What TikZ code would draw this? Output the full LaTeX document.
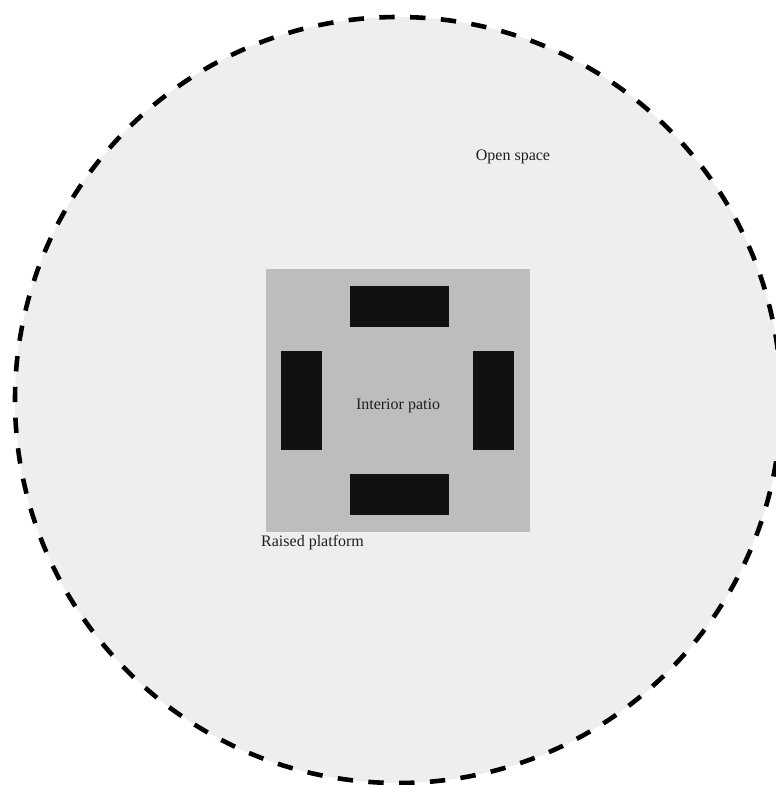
\documentclass[tikz,border=0pt]{standalone}
\usepackage{fontspec}
\setmainfont{Liberation Serif}
\definecolor{openfill}{HTML}{EEEEEE}
\definecolor{platfill}{HTML}{BDBDBD}
\definecolor{blockfill}{HTML}{111111}
\definecolor{txt}{HTML}{1E1E1E}
\begin{document}
\begin{tikzpicture}[x=1pt,y=-1pt,
  lbl/.style={font=\fontsize{16}{19}\selectfont, text=txt, inner sep=0pt},
  block/.style={fill=blockfill, draw=none}]
\useasboundingbox (0,0) rectangle (776,785);
\clip (0,0) rectangle (776,785);
% open space
\fill[openfill] (398,400) circle[radius=383];
\draw[line width=4.6pt, dash pattern=on 15.4pt off 15.4pt] (398,400) circle[radius=383];
% raised platform
\fill[platfill] (266,269) rectangle (530,532);
% blocks
\fill[block] (350,286) rectangle (449,327);
\fill[block] (350,474) rectangle (449,515);
\fill[block] (281,351) rectangle (322,450);
\fill[block] (473,351) rectangle (514,450);
% labels
\node[lbl] (patio) at (398,406) {Interior patio};
\node[lbl, anchor=west] (platform) at (261,543) {Raised platform};
\node[lbl] (open) at (513,157) {Open space};
\end{tikzpicture}
\end{document}
